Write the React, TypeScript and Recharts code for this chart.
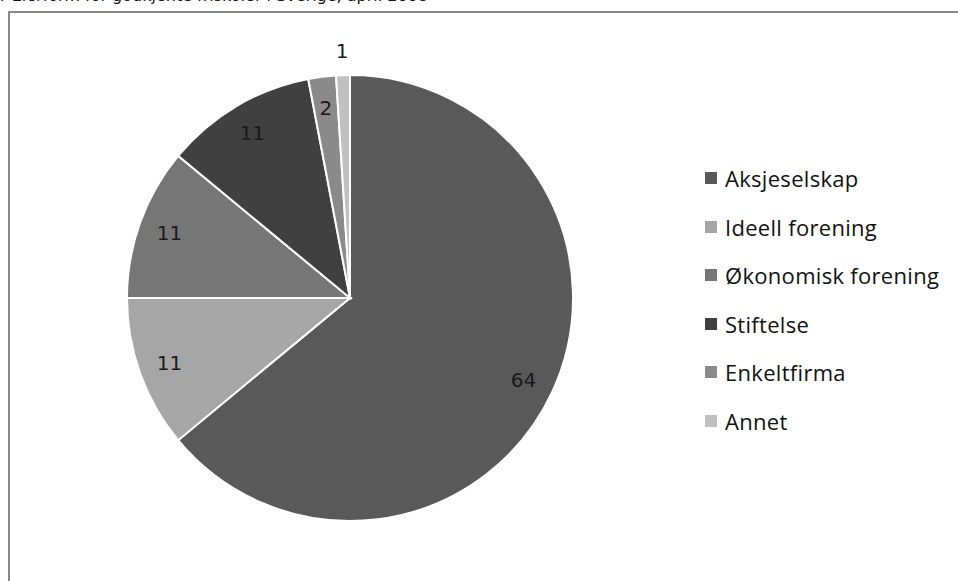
import { PieChart, Pie, Cell, Legend } from "recharts";

const categories = [
  "Aksjeselskap",
  "Ideell forening",
  "Økonomisk forening",
  "Stiftelse",
  "Enkeltfirma",
  "Annet",
];
const shares = [64, 11, 11, 11, 2, 1];
const colors = ["#595959", "#a6a6a6", "#767676", "#404040", "#8a8a8a", "#c0c0c0"];

const TITLE = "r Eierform for godkjente friskoler i Sverige, april 2008";

const data = categories.map((name, i) => ({ name, value: shares[i] }));

const RADIAN = Math.PI / 180;

function renderLabel(props: any) {
  const { cx, cy, midAngle, outerRadius, value } = props;
  // small slices get their label outside the pie
  const r = value < 2 ? outerRadius + 24 : outerRadius * 0.86;
  const x = cx + r * Math.cos(-midAngle * RADIAN);
  const y = cy + r * Math.sin(-midAngle * RADIAN);
  return (
    <text
      x={x}
      y={y}
      fill="#1a1a1a"
      fontSize={20}
      fontFamily="DejaVu Sans, Verdana, sans-serif"
      textAnchor="middle"
      dominantBaseline="central"
    >
      {value}
    </text>
  );
}

function LegendList() {
  return (
    <div
      style={{
        fontFamily: "'Open Sans', sans-serif",
        fontSize: 22,
        letterSpacing: 0.3,
        color: "#111",
      }}
    >
      {categories.map((name, i) => (
        <div
          key={name}
          style={{ display: "flex", alignItems: "center", height: 48.5 }}
        >
          <span
            style={{
              display: "inline-block",
              width: 12,
              height: 12,
              background: colors[i],
              marginRight: 8,
            }}
          />
          <span>{name}</span>
        </div>
      ))}
    </div>
  );
}

export default function App() {
  return (
    <div
      style={{
        position: "absolute",
        left: 0,
        top: 0,
        width: 958,
        height: 581,
        overflow: "hidden",
        background: "#fff",
      }}
    >
      <div
        style={{
          position: "absolute",
          left: 0,
          top: -12,
          fontFamily: "DejaVu Sans, Verdana, sans-serif",
          fontSize: 16,
          lineHeight: "16px",
          whiteSpace: "nowrap",
          color: "#111",
        }}
      >
        {TITLE}
      </div>
      <div
        style={{
          position: "absolute",
          left: 8,
          top: 11,
          width: 1100,
          height: 1100,
          border: "2px solid #888888",
          boxSizing: "border-box",
        }}
      />
      <div style={{ position: "absolute", left: 0, top: 0 }}>
        <PieChart width={958} height={581}>
          <Pie
            data={data}
            dataKey="value"
            nameKey="name"
            cx={345}
            cy={293}
            outerRadius={223}
            startAngle={90}
            endAngle={-270}
            stroke="#ffffff"
            strokeWidth={2}
            label={renderLabel}
            labelLine={false}
            isAnimationActive={false}
          >
            {data.map((d, i) => (
              <Cell key={d.name} fill={colors[i]} />
            ))}
          </Pie>
          <Legend
            layout="vertical"
            content={<LegendList />}
            wrapperStyle={{ left: 705, top: 154, width: 250 }}
          />
        </PieChart>
      </div>
    </div>
  );
}
